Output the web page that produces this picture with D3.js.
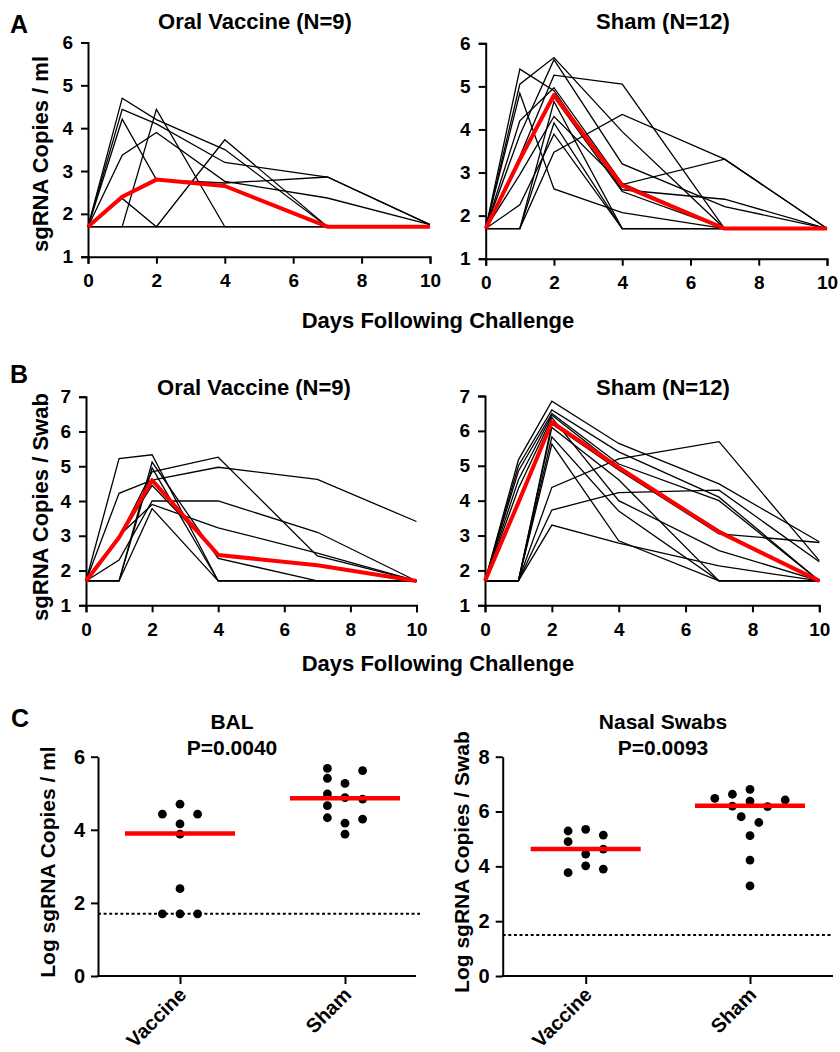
<!DOCTYPE html>
<html>
<head>
<meta charset="utf-8">
<script src="https://cdn.jsdelivr.net/npm/d3@7"></script>
<style>
  body { margin: 0; background: #fff; }
  text { font-family: "Liberation Sans", Arial, sans-serif; font-weight: bold; fill: #000; }
</style>
</head>
<body>
<div id="fig"></div>
<script>
// sampling days after challenge
const days = [0, 1, 2, 4, 7, 10];
const dayTicks = [0, 2, 4, 6, 8, 10];

// A: BAL sgRNA (log copies / ml), one row per animal
const balVaccineAnimals = [
  [1.7, 2.36, 1.7, 3.73, 1.7, 1.7],
  [1.7, 1.7, 4.44, 1.7, 1.7, 1.7],
  [1.7, 3.37, 3.9, 2.76, 2.37, 1.75],
  [1.7, 4.21, 2.8, 2.72, 2.86, 1.75],
  [1.7, 4.44, 4.1, 3.2, 2.86, 1.75],
  [1.7, 4.70, 4.2, 3.5, 1.7, 1.7],
  [1.7, 1.7, 1.7, 1.7, 1.7, 1.7],
  [1.7, 1.7, 1.7, 1.7, 1.7, 1.7],
  [1.7, 1.7, 1.7, 1.7, 1.7, 1.7]
];
const balVaccineMedian = [1.7, 2.4, 2.8, 2.65, 1.7, 1.7];

const balShamAnimals = [
  [1.7, 5.05, 5.67, 3.95, 1.7, 1.7],
  [1.7, 3.87, 5.62, 3.2, 2.21, 1.7],
  [1.7, 5.40, 4.90, 2.6, 2.38, 1.7],
  [1.7, 4.84, 2.62, 2.07, 1.7, 1.7],
  [1.7, 1.7, 3.47, 4.35, 3.31, 1.7],
  [1.7, 3.37, 5.26, 5.05, 1.7, 1.7],
  [1.7, 4.2, 4.97, 2.75, 1.7, 1.7],
  [1.7, 2.95, 4.30, 2.72, 3.31, 1.7],
  [1.7, 1.7, 4.15, 1.7, 1.7, 1.7],
  [1.7, 3.3, 4.75, 2.56, 1.7, 1.7],
  [1.7, 2.25, 3.89, 1.7, 1.7, 1.7],
  [1.7, 1.7, 4.65, 1.7, 1.7, 1.7]
];
const balShamMedian = [1.7, 3.3, 4.8, 2.7, 1.7, 1.7];

// B: nasal swab sgRNA (log copies / swab)
const swabVaccineAnimals = [
  [1.7, 5.22, 5.33, 1.7, 1.7, 1.7],
  [1.7, 4.22, 4.6, 4.97, 4.62, 3.41],
  [1.7, 2.95, 4.84, 5.26, 2.42, 1.7],
  [1.7, 2.3, 4.0, 4.0, 3.1, 1.7],
  [1.7, 3.0, 3.9, 3.23, 2.5, 1.7],
  [1.7, 1.7, 5.12, 2.35, 1.7, 1.7],
  [1.7, 1.7, 4.95, 1.7, 1.7, 1.7],
  [1.7, 1.7, 3.78, 1.7, 1.7, 1.7],
  [1.7, 2.95, 4.45, 2.45, 2.15, 1.7]
];
const swabVaccineMedian = [1.7, 2.95, 4.6, 2.45, 2.15, 1.7];

const swabShamAnimals = [
  [1.7, 5.17, 6.85, 5.64, 4.48, 2.82],
  [1.7, 1.7, 4.38, 5.2, 5.69, 2.28],
  [1.7, 1.7, 3.73, 4.23, 4.3, 2.25],
  [1.7, 5.0, 6.6, 5.4, 4.1, 1.7],
  [1.7, 4.85, 6.5, 5.05, 4.0, 1.7],
  [1.7, 1.7, 6.2, 4.88, 3.05, 2.8],
  [1.7, 4.6, 6.45, 4.95, 3.15, 1.7],
  [1.7, 4.35, 6.38, 4.0, 2.57, 1.7],
  [1.7, 1.7, 5.83, 3.70, 1.7, 1.7],
  [1.7, 1.7, 5.62, 2.85, 1.7, 1.7],
  [1.7, 1.7, 3.30, 2.78, 2.13, 1.7],
  [1.7, 1.7, 6.1, 4.6, 1.7, 1.7]
];
const swabShamMedian = [1.7, 3.95, 6.25, 4.95, 3.1, 1.7];

// C: peak values per animal, with dot column used by the scatter layout
const groups = ["Vaccine", "Sham"];
const balPeakVaccine = [4.70, 4.43, 4.43, 4.16, 3.88, 2.39, 1.70, 1.70, 1.70];
const balPeakVaccineCol = [0, -1, 1, 0, 0, 0, -1, 0, 1];
const balPeakSham = [5.68, 5.62, 5.41, 5.27, 4.98, 4.88, 4.84, 4.66, 4.33, 4.29, 4.18, 3.88];
const balPeakShamCol = [-1, 1, -1, 0, -1, 0, 1, -1, -1, 1, 0, 0];
const balPeakMeans = [3.9, 4.86];
const balLimit = 1.7;

const swabPeakVaccine = [5.35, 5.29, 5.14, 4.90, 4.63, 4.45, 4.02, 3.90, 3.77];
const swabPeakVaccineCol = [0, -1, 1, -1, 1, 0, 0, 1, -1];
const swabPeakSham = [6.81, 6.63, 6.48, 6.42, 6.38, 6.20, 6.18, 5.81, 5.60, 5.12, 4.23, 3.29];
const swabPeakShamCol = [0, -1, -2, 2, 0, -1, 1, -0.5, 0.5, 0, 0, 0];
const swabPeakMeans = [4.63, 6.21];
const swabLimit = 1.5;

const W = 840, H = 1052;
const svg = d3.select("#fig").append("svg").attr("width", W).attr("height", H);

function styleAxis(g, size) {
  g.selectAll(".domain, .tick line").attr("stroke", "#000").attr("stroke-width", 2);
  g.selectAll("text").attr("font-size", size).attr("fill", "#000");
}

function timecourse(cfg) {
  const x = d3.scaleLinear().domain([0, 10]).range([cfg.left, cfg.right]);
  const y = d3.scaleLinear().domain(cfg.yDomain).range([cfg.bottom, cfg.top]);
  const line = d3.line().x((d, i) => x(days[i])).y(d => y(d));
  const g = svg.append("g");

  g.append("g")
    .selectAll("path")
    .data(cfg.animals)
    .join("path")
    .attr("d", line)
    .attr("fill", "none")
    .attr("stroke", "#000")
    .attr("stroke-width", 1.3);

  g.append("g")
    .attr("transform", `translate(0,${cfg.bottom})`)
    .call(d3.axisBottom(x).tickValues(dayTicks).tickSize(7).tickSizeOuter(7).tickPadding(10))
    .call(a => styleAxis(a, 19));

  g.append("g")
    .attr("transform", `translate(${cfg.left},0)`)
    .call(d3.axisLeft(y).ticks(cfg.yDomain[1] - cfg.yDomain[0]).tickFormat(d3.format("d")).tickSize(7).tickSizeOuter(7).tickPadding(8))
    .call(a => styleAxis(a, 19));

  g.append("path")
    .attr("d", line(cfg.median))
    .attr("fill", "none")
    .attr("stroke", "#ff0000")
    .attr("stroke-width", 4)
    .attr("stroke-linejoin", "round");

  g.append("text")
    .attr("x", cfg.titleX)
    .attr("y", cfg.titleY)
    .attr("text-anchor", "middle")
    .attr("font-size", 22)
    .text(cfg.title);
}

function scatter(cfg) {
  const x = d3.scalePoint().domain(groups).range(cfg.xs);
  const y = d3.scaleLinear().domain(cfg.yDomain).range([cfg.bottom, cfg.top]);
  const step = 17.6;
  const g = svg.append("g");

  // limit of detection
  g.append("line")
    .attr("x1", cfg.left).attr("x2", cfg.dotRight)
    .attr("y1", y(cfg.limit)).attr("y2", y(cfg.limit))
    .attr("stroke", "#000").attr("stroke-width", 2)
    .attr("stroke-dasharray", "3,2.6");

  g.append("g")
    .attr("transform", `translate(${cfg.left},0)`)
    .call(d3.axisLeft(y).tickValues(cfg.yTicks).tickFormat(d3.format("d")).tickSize(7).tickSizeOuter(0).tickPadding(6))
    .call(a => styleAxis(a, 20));

  const xa = g.append("g")
    .attr("transform", `translate(0,${cfg.bottom})`)
    .call(d3.axisBottom(x).tickSize(8).tickSizeOuter(0));
  xa.select(".domain").remove();
  styleAxis(xa, 20);
  xa.selectAll("text")
    .attr("text-anchor", "end")
    .attr("dy", null)
    .attr("y", null)
    .attr("transform", "translate(7,20) rotate(-45)");
  g.append("line")
    .attr("x1", cfg.left - 1).attr("x2", cfg.right)
    .attr("y1", cfg.bottom).attr("y2", cfg.bottom)
    .attr("stroke", "#000").attr("stroke-width", 2);

  const pts = [];
  cfg.vaccine.forEach((v, i) => pts.push({ g: "Vaccine", v: v, c: cfg.vaccineCol[i] }));
  cfg.sham.forEach((v, i) => pts.push({ g: "Sham", v: v, c: cfg.shamCol[i] }));

  g.append("g")
    .selectAll("circle")
    .data(pts)
    .join("circle")
    .attr("cx", d => x(d.g) + d.c * step)
    .attr("cy", d => y(d.v))
    .attr("r", 4.4)
    .attr("fill", "#000");

  g.append("g")
    .selectAll("line")
    .data(cfg.means)
    .join("line")
    .attr("x1", (d, i) => x(groups[i]) - 55)
    .attr("x2", (d, i) => x(groups[i]) + 55)
    .attr("y1", d => y(d))
    .attr("y2", d => y(d))
    .attr("stroke", "#ff0000")
    .attr("stroke-width", 4.5);

  g.append("text")
    .attr("x", cfg.titleX).attr("y", 729)
    .attr("text-anchor", "middle").attr("font-size", 21)
    .text(cfg.title);
  g.append("text")
    .attr("x", cfg.titleX).attr("y", 755)
    .attr("text-anchor", "middle").attr("font-size", 21)
    .text(cfg.pval);

  g.append("text")
    .attr("transform", `translate(${cfg.labelX},862) rotate(-90)`)
    .attr("text-anchor", "middle")
    .attr("font-size", 21)
    .text(cfg.ylabel);
}

// panel A
timecourse({ left: 88, right: 430, top: 42.5, bottom: 256.7, yDomain: [1, 6],
  animals: balVaccineAnimals, median: balVaccineMedian,
  title: "Oral Vaccine (N=9)", titleX: 255, titleY: 29 });
timecourse({ left: 485.7, right: 827, top: 43.3, bottom: 258.7, yDomain: [1, 6],
  animals: balShamAnimals, median: balShamMedian,
  title: "Sham (N=12)", titleX: 663, titleY: 29 });

// panel B
timecourse({ left: 86, right: 416.5, top: 396.7, bottom: 605.3, yDomain: [1, 7],
  animals: swabVaccineAnimals, median: swabVaccineMedian,
  title: "Oral Vaccine (N=9)", titleX: 254, titleY: 395 });
timecourse({ left: 485, right: 819.3, top: 396, bottom: 605.3, yDomain: [1, 7],
  animals: swabShamAnimals, median: swabShamMedian,
  title: "Sham (N=12)", titleX: 663, titleY: 395 });

// panel C
scatter({ left: 98, right: 416, dotRight: 420, xs: [180, 345], top: 756.7, bottom: 976,
  yDomain: [0, 6], yTicks: [0, 2, 4, 6], limit: balLimit,
  vaccine: balPeakVaccine, vaccineCol: balPeakVaccineCol,
  sham: balPeakSham, shamCol: balPeakShamCol, means: balPeakMeans,
  title: "BAL", pval: "P=0.0040", titleX: 232,
  ylabel: "Log sgRNA Copies / ml", labelX: 55 });
scatter({ left: 502.7, right: 833, dotRight: 833, xs: [585.7, 750], top: 756.7, bottom: 976,
  yDomain: [0, 8], yTicks: [0, 2, 4, 6, 8], limit: swabLimit,
  vaccine: swabPeakVaccine, vaccineCol: swabPeakVaccineCol,
  sham: swabPeakSham, shamCol: swabPeakShamCol, means: swabPeakMeans,
  title: "Nasal Swabs", pval: "P=0.0093", titleX: 663,
  ylabel: "Log sgRNA Copies / Swab", labelX: 469 });

// shared labels
const labels = [
  { t: "A", x: 10, y: 33, s: 25, a: "start" },
  { t: "B", x: 10, y: 383, s: 25, a: "start" },
  { t: "C", x: 11, y: 727, s: 25, a: "start" },
  { t: "Days Following Challenge", x: 438, y: 328, s: 22, a: "middle" },
  { t: "Days Following Challenge", x: 438, y: 671, s: 22, a: "middle" }
];
svg.append("g").selectAll("text").data(labels).join("text")
  .attr("x", d => d.x).attr("y", d => d.y)
  .attr("font-size", d => d.s).attr("text-anchor", d => d.a)
  .text(d => d.t);

svg.append("text")
  .attr("transform", "translate(48,154) rotate(-90)")
  .attr("text-anchor", "middle").attr("font-size", 22)
  .text("sgRNA Copies / ml");
svg.append("text")
  .attr("transform", "translate(48,507) rotate(-90)")
  .attr("text-anchor", "middle").attr("font-size", 22)
  .text("sgRNA Copies / Swab");
</script>
</body>
</html>
